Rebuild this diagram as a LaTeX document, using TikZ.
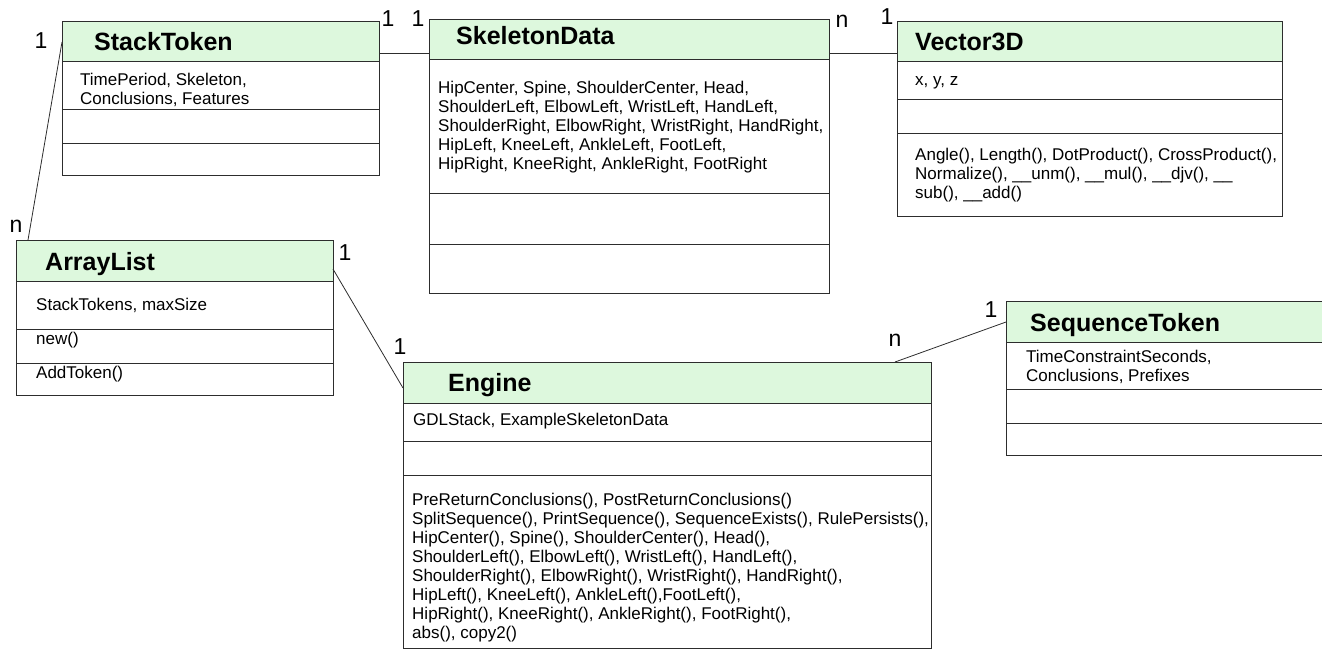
\documentclass[tikz,border=0pt]{standalone}
\usepackage{fontspec}
\setmainfont{Liberation Sans}
\usetikzlibrary{calc,backgrounds}
\definecolor{hdr}{RGB}{221,248,221}
\definecolor{ln}{RGB}{45,45,45}
\tikzset{
  classbox/.style={draw=ln, line width=1pt, rectangle, anchor=north west, inner sep=0pt, outer sep=0pt},
  ctitle/.style={anchor=base west, inner sep=0pt, font=\fontsize{25}{30}\selectfont\bfseries},
  body/.style={anchor=base west, inner sep=0pt, font=\fontsize{17}{19}\selectfont},
  mult/.style={inner sep=0pt, font=\fontsize{23}{27}\selectfont},
  assoc/.style={draw=ln, line width=0.8pt},
  sepline/.style={draw=ln, line width=1pt},
}
\begin{document}
\begin{tikzpicture}[x=1pt,y=-1pt]
\useasboundingbox (0,0) rectangle (1322,649);
\clip (0,0) rectangle (1322,649);

% ---------- StackToken ----------
\node[classbox, minimum width=317pt, minimum height=154pt] (st) at (62,21) {};
\begin{scope}[on background layer]
  \fill[hdr] (st.north west) rectangle (st.north east |- 0,61);
\end{scope}
\draw[sepline] (st.west |- 0,61) -- (st.east |- 0,61);
\draw[sepline] (st.west |- 0,109) -- (st.east |- 0,109);
\draw[sepline] (st.west |- 0,143) -- (st.east |- 0,143);
\node[ctitle] (stT) at (94,50) {StackToken};
\node[body] (stA1) at (80,85) {TimePeriod, Skeleton,};
\node[body] (stA2) at (80,104) {Conclusions, Features};

% ---------- SkeletonData ----------
\node[classbox, minimum width=400pt, minimum height=274pt] (sk) at (429,19) {};
\begin{scope}[on background layer]
  \fill[hdr] (sk.north west) rectangle (sk.north east |- 0,59);
\end{scope}
\draw[sepline] (sk.west |- 0,59) -- (sk.east |- 0,59);
\draw[sepline] (sk.west |- 0,193) -- (sk.east |- 0,193);
\draw[sepline] (sk.west |- 0,244) -- (sk.east |- 0,244);
\node[ctitle] (skT) at (456,44) {SkeletonData};
\node[body] (skA1) at (438,93) {HipCenter, Spine, ShoulderCenter, Head,};
\node[body] (skA2) at (438,112) {ShoulderLeft, ElbowLeft, WristLeft, HandLeft,};
\node[body] (skA3) at (438,131) {ShoulderRight, ElbowRight, WristRight, HandRight,};
\node[body] (skA4) at (438,150) {HipLeft, KneeLeft, AnkleLeft, FootLeft,};
\node[body] (skA5) at (438,169) {HipRight, KneeRight, AnkleRight, FootRight};

% ---------- Vector3D ----------
\node[classbox, minimum width=385pt, minimum height=195pt] (v3) at (897,21) {};
\begin{scope}[on background layer]
  \fill[hdr] (v3.north west) rectangle (v3.north east |- 0,61);
\end{scope}
\draw[sepline] (v3.west |- 0,61) -- (v3.east |- 0,61);
\draw[sepline] (v3.west |- 0,99) -- (v3.east |- 0,99);
\draw[sepline] (v3.west |- 0,133) -- (v3.east |- 0,133);
\node[ctitle] (v3T) at (915,50) {Vector3D};
\node[body] (v3A1) at (915,85) {x, y, z};
\node[body] (v3M1) at (915,160) {Angle(), Length(), DotProduct(), CrossProduct(),};
\node[body] (v3M2) at (915,179) {Normalize(), \_\_unm(), \_\_mul(), \_\_djv(), \_\_};
\node[body] (v3M3) at (915,198) {sub(), \_\_add()};

% ---------- ArrayList ----------
\node[classbox, minimum width=317pt, minimum height=155pt] (al) at (16,240) {};
\begin{scope}[on background layer]
  \fill[hdr] (al.north west) rectangle (al.north east |- 0,281);
\end{scope}
\draw[sepline] (al.west |- 0,281) -- (al.east |- 0,281);
\draw[sepline] (al.west |- 0,329) -- (al.east |- 0,329);
\draw[sepline] (al.west |- 0,363) -- (al.east |- 0,363);
\node[ctitle] (alT) at (45,270) {ArrayList};
\node[body] (alA1) at (36,310) {StackTokens, maxSize};
\node[body] (alM1) at (36,344) {new()};
\node[body] (alM2) at (36,378) {AddToken()};

% ---------- Engine ----------
\node[classbox, minimum width=528pt, minimum height=286pt] (en) at (403,362) {};
\begin{scope}[on background layer]
  \fill[hdr] (en.north west) rectangle (en.north east |- 0,403);
\end{scope}
\draw[sepline] (en.west |- 0,403) -- (en.east |- 0,403);
\draw[sepline] (en.west |- 0,441) -- (en.east |- 0,441);
\draw[sepline] (en.west |- 0,475) -- (en.east |- 0,475);
\node[ctitle] (enT) at (448,391) {Engine};
\node[body] (enA1) at (413,425) {GDLStack, ExampleSkeletonData};
\node[body] (enM1) at (412,505) {PreReturnConclusions(), PostReturnConclusions()};
\node[body] (enM2) at (412,524) {SplitSequence(), PrintSequence(), SequenceExists(), RulePersists(),};
\node[body] (enM3) at (412,543) {HipCenter(), Spine(), ShoulderCenter(), Head(),};
\node[body] (enM4) at (412,562) {ShoulderLeft(), ElbowLeft(), WristLeft(), HandLeft(),};
\node[body] (enM5) at (412,581) {ShoulderRight(), ElbowRight(), WristRight(), HandRight(),};
\node[body] (enM6) at (412,600) {HipLeft(), KneeLeft(), AnkleLeft(),FootLeft(),};
\node[body] (enM7) at (412,619) {HipRight(), KneeRight(), AnkleRight(), FootRight(),};
\node[body] (enM8) at (412,638) {abs(), copy2()};

% ---------- SequenceToken ----------
\node[classbox, minimum width=340pt, minimum height=154pt] (sq) at (1006,301) {};
\begin{scope}[on background layer]
  \fill[hdr] (sq.north west) rectangle (sq.north east |- 0,342);
\end{scope}
\draw[sepline] (sq.west |- 0,342) -- (sq.east |- 0,342);
\draw[sepline] (sq.west |- 0,389) -- (sq.east |- 0,389);
\draw[sepline] (sq.west |- 0,423) -- (sq.east |- 0,423);
\node[ctitle] (sqT) at (1030,331) {SequenceToken};
\node[body] (sqA1) at (1026,362) {TimeConstraintSeconds,};
\node[body] (sqA2) at (1026,381) {Conclusions, Prefixes};

% ---------- Associations ----------
\draw[assoc] ([yshift=-32pt]st.north east) -- ([yshift=-34pt]sk.north west);
\draw[assoc] ([yshift=-34pt]sk.north east) -- ([yshift=-32pt]v3.north west);
\draw[assoc] ([yshift=-21pt]st.north west) -- ([xshift=12pt]al.north west);
\draw[assoc] ([yshift=-29pt]al.north east) -- ([yshift=-26pt]en.north west);
\draw[assoc] ([xshift=-36pt]en.north east) -- ([yshift=-21pt]sq.north west);

% ---------- Multiplicities ----------
\node[mult] (m1) at (41,41) {1};
\node[mult] (m2) at (16,226) {n};
\node[mult] (m3) at (388,19) {1};
\node[mult] (m4) at (418,19) {1};
\node[mult] (m5) at (842,21) {n};
\node[mult] (m6) at (887,17) {1};
\node[mult] (m7) at (345,253) {1};
\node[mult] (m8) at (400,347) {1};
\node[mult] (m9) at (895,340) {n};
\node[mult] (m10) at (991,310) {1};
\end{tikzpicture}
\end{document}
